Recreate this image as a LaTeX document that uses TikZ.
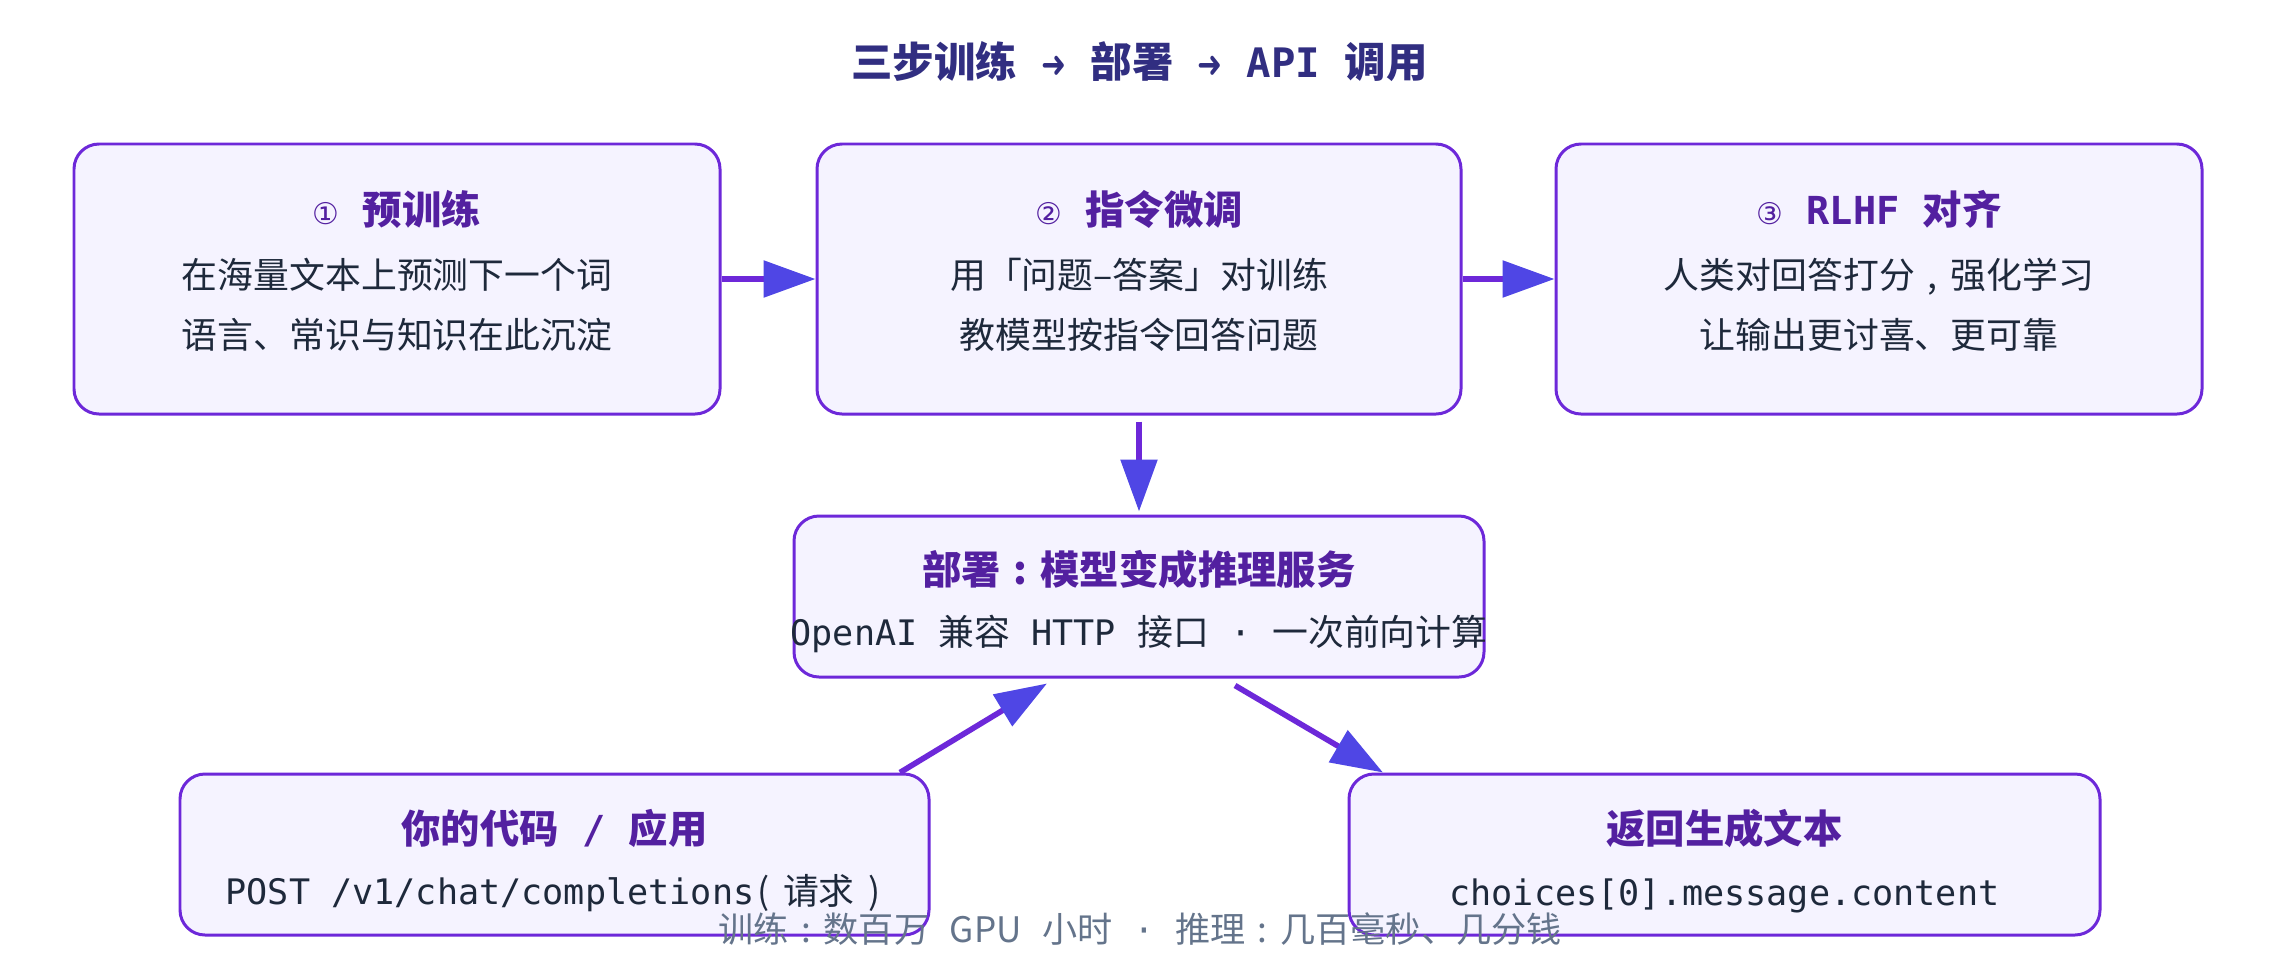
\documentclass[tikz,border=0pt]{standalone}
\usepackage{fontspec}
\usepackage{graphicx}
\setmainfont{Noto Sans CJK SC}
\newfontfamily\monofont[Scale=0.98]{DejaVu Sans Mono}
\newfontfamily\symfont{DejaVu Sans}
\usetikzlibrary{arrows.meta}

\definecolor{boxfill}{HTML}{F5F3FF}
\definecolor{boxline}{HTML}{6D28D9}
\definecolor{ttlcol}{HTML}{5320A0}
\definecolor{txtcol}{HTML}{1E293B}
\definecolor{headcol}{HTML}{312E81}
\definecolor{tipcol}{HTML}{4F46E5}
\definecolor{notecol}{HTML}{64748B}

\newcommand{\code}[1]{{\monofont #1}}
\newcommand{\circnum}[1]{{\symfont\mdseries\fontsize{8.5}{10}\selectfont #1}}
\newcommand{\fwcolon}{\makebox[1em]{:}}
\newcommand{\fwcomma}{\makebox[1em]{,}}
\newcommand{\thento}{\code{ }\makebox[0.588em]{\symfont\bfseries\scalebox{0.72}[0.9]{➜}}\code{ }}

\tikzset{
  stage/.style={draw=boxline, fill=boxfill, line width=0.85pt, rounded corners=0.25cm, inner sep=0pt},
  head/.style={font=\fontsize{11.8}{14}\selectfont\bfseries, text=headcol, inner sep=0pt},
  ttl/.style={font=\fontsize{11.2}{13}\selectfont\bfseries, text=ttlcol, inner sep=0pt, text height=9.8pt, text depth=1.4pt},
  txt/.style={font=\fontsize{10.2}{12}\selectfont, text=txtcol, inner sep=0pt, text height=9pt, text depth=1.2pt},
  note/.style={font=\fontsize{10}{12}\selectfont, text=notecol, inner sep=0pt, text height=8.8pt, text depth=1.2pt},
  flow/.style={draw=boxline, line width=1.6pt, -{Triangle[length=0.52cm,width=0.36cm,color=tipcol]}},
}

\begin{document}
\begin{tikzpicture}
  \fill[white] (0,0) rectangle (22.8,9.6);
  \node[head] (title) at (11.395,8.98) {三步训练\thento 部署\thento\code{API }调用};

  % training stages
  \node[stage, minimum width=6.46cm, minimum height=2.70cm] (pre) at (3.97,6.81) {};
  \node[ttl] (pre-t) at ([yshift=0.69cm]pre.center) {\circnum{①}\code{ }预训练};
  \node[txt] (pre-a) at ([yshift=0.04cm]pre.center) {在海量文本上预测下一个词};
  \node[txt] (pre-b) at ([yshift=-0.56cm]pre.center) {语言、常识与知识在此沉淀};

  \node[stage, minimum width=6.44cm, minimum height=2.70cm] (sft) at (11.39,6.81) {};
  \node[ttl] (sft-t) at ([yshift=0.69cm]sft.center) {\circnum{②}\code{ }指令微调};
  \node[txt] (sft-a) at ([yshift=0.04cm]sft.center) {用「问题–答案」对训练};
  \node[txt] (sft-b) at ([yshift=-0.56cm]sft.center) {教模型按指令回答问题};

  \node[stage, minimum width=6.46cm, minimum height=2.70cm] (rlhf) at (18.79,6.81) {};
  \node[ttl] (rlhf-t) at ([yshift=0.69cm]rlhf.center) {\circnum{③}\code{ RLHF }对齐};
  \node[txt] (rlhf-a) at ([yshift=0.04cm]rlhf.center) {人类对回答打分\fwcomma 强化学习};
  \node[txt] (rlhf-b) at ([yshift=-0.56cm]rlhf.center) {让输出更讨喜、更可靠};

  % serving
  \node[stage, minimum width=6.90cm, minimum height=1.61cm] (deploy) at (11.39,3.635) {};
  \node[ttl] (deploy-t) at ([yshift=0.265cm]deploy.center) {部署\fwcolon 模型变成推理服务};
  \node[txt] (deploy-a) at ([yshift=-0.355cm]deploy.center) {\code{OpenAI }兼容\code{ HTTP }接口\code{ · }一次前向计算};

  \node[stage, minimum width=7.49cm, minimum height=1.61cm] (code) at (5.545,1.055) {};
  \node[ttl] (code-t) at ([yshift=0.26cm]code.center) {你的代码\code{ / }应用};
  \node[txt] (code-a) at ([yshift=-0.36cm]code.center) {\code{POST /v1/chat/completions}\makebox[0.8em][l]{\hspace{0.08em}(}请求\makebox[0.8em][r]{)\hspace{0.08em}}};

  \node[stage, minimum width=7.51cm, minimum height=1.61cm] (ret) at (17.245,1.055) {};
  \node[ttl] (ret-t) at ([yshift=0.26cm]ret.center) {返回生成文本};
  \node[txt] (ret-a) at ([yshift=-0.37cm]ret.center) {\code{choices[0].message.content}};

  % arrows
  \draw[flow] (pre.east) -- (sft.west);
  \draw[flow] (sft.east) -- (rlhf.west);
  \draw[flow] ([yshift=-0.06cm]sft.south) -- ([yshift=0.03cm]deploy.north);
  \draw[flow] ([xshift=3.455cm]code.north) -- ([xshift=-0.92cm,yshift=-0.05cm]deploy.south);
  \draw[flow] ([xshift=0.96cm,yshift=-0.07cm]deploy.south) -- ([xshift=-3.415cm]ret.north);

  \node[note] (cost) at (11.40,0.31) {训练\fwcolon 数百万\code{ }GPU\code{ }小时\code{ · }推理\fwcolon 几百毫秒、几分钱};
\end{tikzpicture}
\end{document}
